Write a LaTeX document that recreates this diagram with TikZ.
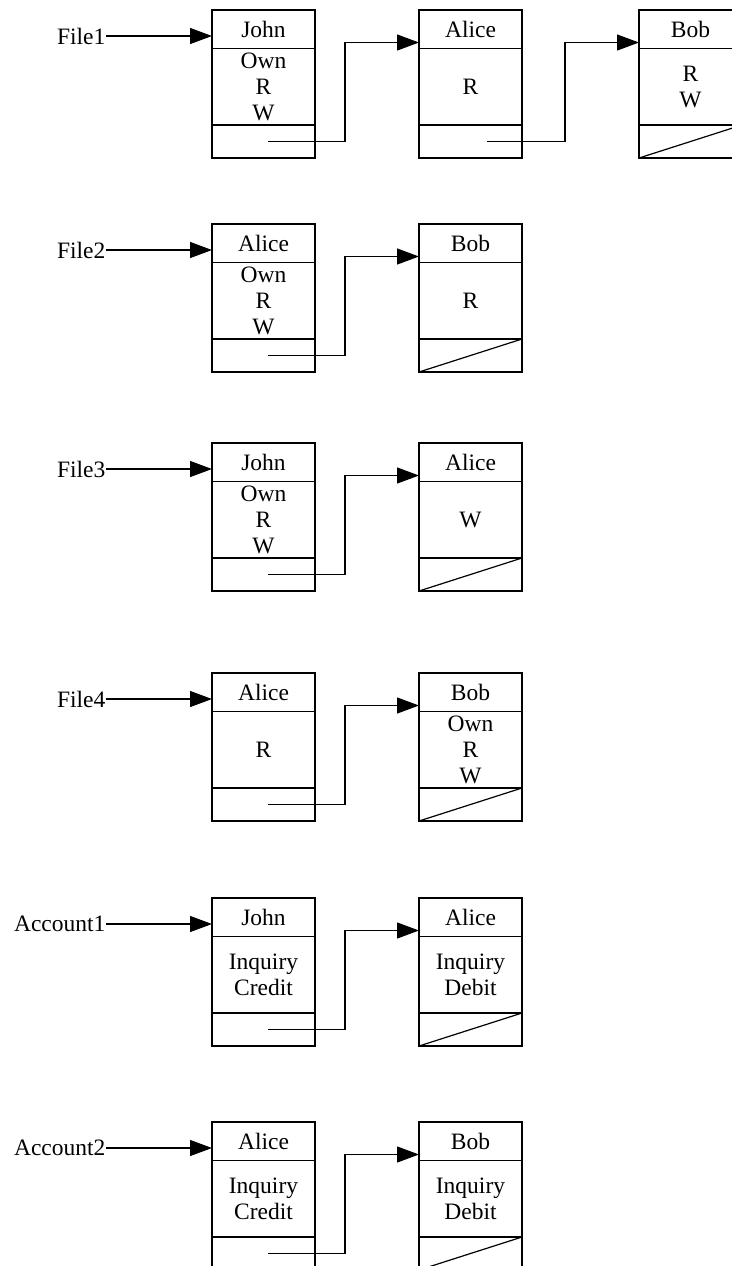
\documentclass[tikz,border=0pt]{standalone}
\usepackage{fontspec}
\setmainfont{Liberation Serif}
\usetikzlibrary{positioning,arrows.meta}

\begin{document}
\begin{tikzpicture}[
    x=0.5pt, y=-0.5pt,
    font=\fontsize{11.75}{13}\selectfont,
    line width=0.6pt,
    %% cell styles of one ACL entry
    acehead/.style={draw, anchor=north west, minimum width=51.5pt,
        minimum height=19.25pt, inner sep=0pt, outer sep=0pt},
    acebody/.style={draw, minimum width=51.5pt, minimum height=38.25pt,
        inner sep=0pt, outer sep=0pt, align=center},
    aceptr/.style={draw, minimum width=51.5pt, minimum height=16.5pt,
        inner sep=0pt, outer sep=0pt},
    %% object names on the left
    objlbl/.style={anchor=east, inner sep=0pt},
    %% pointers
    link/.style={-{Triangle[length=11pt, width=8pt]}}
]
\useasboundingbox (0,0) rectangle (732,1266);
\clip (0,0) rectangle (732,1266);

%% ACL entries: name / x / y / user / rights
\foreach \n/\x/\y/\who/\rights in {
    j1/212/10/John/{Own\\R\\W}, a1/419/10/Alice/R, b1/639/10/Bob/{R\\W},
    a2/212/224/Alice/{Own\\R\\W}, b2/419/224/Bob/R,
    j3/212/443/John/{Own\\R\\W}, a3/419/443/Alice/W,
    a4/212/673/Alice/R, b4/419/673/Bob/{Own\\R\\W},
    j5/212/898/John/{Inquiry\\Credit}, a5/419/898/Alice/{Inquiry\\Debit},
    a6/212/1122/Alice/{Inquiry\\Credit}, b6/419/1122/Bob/{Inquiry\\Debit}} {
    \node[acehead] (\n-h) at (\x,\y) {\who};
    \node[acebody, below=0pt of \n-h] (\n-r) {\rights};
    \node[aceptr, below=0pt of \n-r] (\n-p) {};
}

%% end of list: null pointer
\foreach \n in {b1, b2, a3, b4, a5, b6} {
    \draw (\n-p.south west) -- (\n-p.north east);
}

%% objects -> first entry
\foreach \lbl/\y/\first in {File1/10/j1, File2/224/a2, File3/443/j3,
                             File4/673/a4, Account1/898/j5, Account2/1122/a6} {
    \node[objlbl] (\lbl) at (106,\y+26) {\lbl};
    \draw[link] (\lbl.east) -- (\lbl.east -| \first-h.west);
}

%% next pointers
\foreach \src/\dst/\dx in {j1/a1/2, a1/b1/8, a2/b2/2, j3/a3/2,
                           a4/b4/2, j5/a5/2, a6/b6/2} {
    \draw[link] ([xshift=\dx pt]\src-p.center)
        -| ([xshift=-37pt, yshift=3pt]\dst-h.south west)
        -- ([yshift=3pt]\dst-h.south west);
}

\end{tikzpicture}
\end{document}
